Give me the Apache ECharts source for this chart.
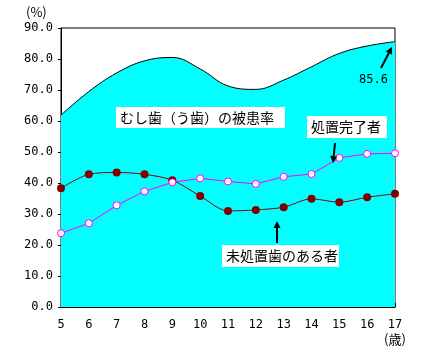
<!DOCTYPE html>
<html>
<head>
<meta charset="utf-8">
<script src="https://cdn.jsdelivr.net/npm/echarts@6/dist/echarts.min.js"></script>
<style>
html, body { margin: 0; padding: 0; background: #fff; }
#chart { width: 426px; height: 352px; }
</style>
</head>
<body>
<div id="chart"></div>
<script>
// 年齢 (歳)
var ages = ['5', '6', '7', '8', '9', '10', '11', '12', '13', '14', '15', '16', '17'];
// むし歯（う歯）の被患率
var rateAll = [61.9, 69.5, 75.5, 79.4, 80.5, 76.8, 71.3, 70.2, 73.2, 77.5, 81.8, 84.2, 85.6];
// 処置完了者
var treated = [23.8, 27.0, 32.8, 37.3, 40.2, 41.5, 40.5, 39.7, 42.0, 42.9, 48.1, 49.4, 49.6];
// 未処置歯のある者
var untreated = [38.3, 42.8, 43.4, 42.8, 40.9, 35.8, 31.0, 31.3, 32.2, 34.9, 33.8, 35.4, 36.5];

var numFont = 'DejaVu Sans Mono';
var jpFont = 'Noto Sans CJK JP';

var myChart = echarts.init(document.getElementById('chart'), null, { renderer: 'canvas' });

function arrow(x1, y1, x2, y2) {
	// 線 + 矢じり
	var ang = Math.atan2(y2 - y1, x2 - x1);
	var L = 7, W = 3.5;
	var bx = x2 - L * Math.cos(ang), by = y2 - L * Math.sin(ang);
	var px = -Math.sin(ang) * W, py = Math.cos(ang) * W;
	return [{
		type: 'line',
		shape: { x1: x1, y1: y1, x2: bx, y2: by },
		style: { stroke: '#000', lineWidth: 2 },
		z: 100
	}, {
		type: 'polygon',
		shape: { points: [[x2, y2], [bx + px, by + py], [bx - px, by - py]] },
		style: { fill: '#000' },
		z: 100
	}];
}

function label(text, x, y, w, h) {
	return [{
		type: 'rect',
		shape: { x: x, y: y, width: w, height: h },
		style: { fill: '#fff' },
		z: 100
	}, {
		type: 'text',
		x: x + 4, y: y + h / 2,
		style: { text: text, font: '14px "' + jpFont + '"', fill: '#000', verticalAlign: 'middle' },
		z: 101
	}];
}

var graphics = [
	{
		type: 'text', x: 359, y: 74, z: 100,
		style: { text: '85.6', font: '12px "' + numFont + '"', fill: '#000' }
	},
	{
		type: 'text', x: 26, y: 6, z: 100,
		style: { text: '(%)', font: '13px "' + jpFont + '"', fill: '#000' }
	},
	{
		type: 'text', x: 384, y: 333, z: 100,
		style: { text: '(歳)', font: '13px "' + jpFont + '"', fill: '#000' }
	}
].concat(
	label('むし歯（う歯）の被患率', 116, 107, 169, 21),
	label('処置完了者', 307, 116, 80, 22),
	label('未処置歯のある者', 222, 245, 117, 22),
	arrow(381, 68, 392, 47), arrow(335, 143, 333, 163), arrow(277, 243, 277, 221)
);

var option = {
	animation: false,
	backgroundColor: '#fff',
	grid: {
		left: 61, right: 31, top: 28, bottom: 45,
		show: true, borderColor: '#000', borderWidth: 1, backgroundColor: '#fff'
	},
	xAxis: {
		type: 'category',
		data: ages,
		boundaryGap: false,
		axisLine: { lineStyle: { color: '#000', width: 1 } },
		axisTick: { inside: true, length: 4, lineStyle: { color: '#000' } },
		axisLabel: { color: '#000', fontFamily: numFont, fontSize: 12, margin: 12 },
		splitLine: { show: false }
	},
	yAxis: {
		type: 'value',
		min: 0, max: 90, interval: 10,
		axisLine: { show: true, lineStyle: { color: '#000', width: 1 } },
		axisTick: { show: true, length: 3, lineStyle: { color: '#000' } },
		axisLabel: {
			color: '#000', fontFamily: numFont, fontSize: 12, margin: 8,
			formatter: function (v) { return v.toFixed(1); }
		},
		splitLine: { show: false }
	},
	series: [{
		name: 'むし歯（う歯）の被患率',
		type: 'line',
		data: rateAll,
		smooth: 0.4,
		symbol: 'none',
		lineStyle: { color: '#000', width: 1 },
		areaStyle: { color: '#00ffff', opacity: 1 },
		z: 1
	}, {
		name: '未処置歯のある者',
		type: 'line',
		data: untreated,
		smooth: 0.3,
		symbol: 'circle',
		symbolSize: 8,
		itemStyle: { color: '#800000' },
		lineStyle: { color: '#800000', width: 1 },
		z: 3
	}, {
		name: '処置完了者',
		type: 'line',
		data: treated,
		symbol: 'circle',
		symbolSize: 7,
		itemStyle: { color: '#fff', borderColor: '#ff00ff', borderWidth: 1 },
		lineStyle: { color: '#ff00ff', width: 1 },
		z: 4
	}],
	graphic: graphics
};

myChart.setOption(option);
</script>
</body>
</html>
